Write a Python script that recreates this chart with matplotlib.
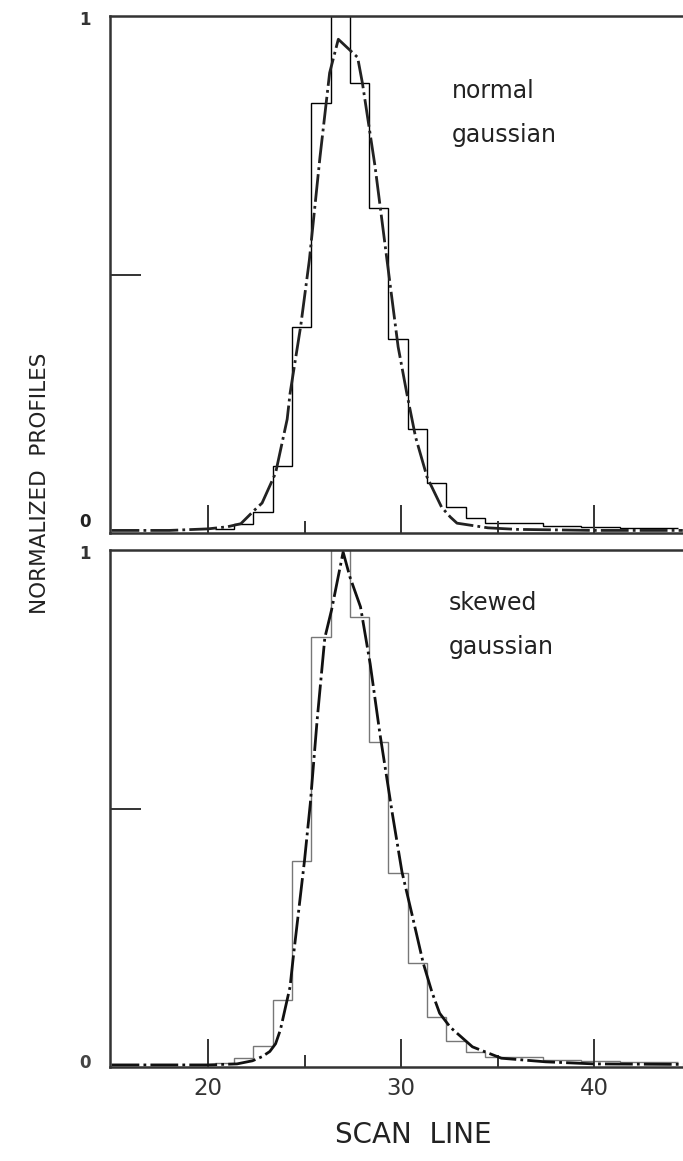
import numpy as np
import matplotlib.pyplot as plt
from matplotlib import font_manager

# measured profile (same histogram in both panels), bin edges in scan lines
bin_edges = [20.35, 21.35, 22.35, 23.35, 24.35, 25.35, 26.35, 27.35, 28.35,
             29.35, 30.35, 31.35, 32.35, 33.35, 34.35, 35.35, 36.35, 37.35,
             38.35, 39.35, 40.35, 41.35, 42.35, 43.35, 44.35]
hist_vals = [0.008, 0.018, 0.041, 0.13, 0.398, 0.832, 1.0, 0.870, 0.629,
             0.376, 0.202, 0.097, 0.050, 0.029, 0.019, 0.019, 0.019, 0.014,
             0.014, 0.012, 0.012, 0.010, 0.010, 0.010]

# normal gaussian fit
normal_x = [15.0, 18.0, 20.0, 21.0, 21.7, 22.4, 22.8, 23.5, 24.1, 24.25, 24.8,
            25.25, 25.8, 26.3, 26.75, 27.75, 28.0, 28.65, 29.3, 29.85, 30.3,
            30.75, 31.35, 32.1, 32.55, 32.9, 34.5, 36.0, 40.0, 44.6]
normal_y = [0.005, 0.005, 0.008, 0.012, 0.018, 0.044, 0.058, 0.116, 0.22, 0.27,
            0.40, 0.528, 0.727, 0.89, 0.955, 0.92, 0.87, 0.71, 0.52, 0.36, 0.27,
            0.186, 0.108, 0.05, 0.031, 0.019, 0.010, 0.007, 0.005, 0.005]

# skewed gaussian fit
skewed_x = [15.0, 20.0, 21.5, 22.3, 22.8, 23.2, 23.5, 23.75, 24.25, 24.4, 25.0,
            25.3, 25.65, 25.8, 26.05, 26.4, 27.0, 27.35, 27.9, 28.4, 28.9,
            29.55, 30.05, 30.55, 31.15, 31.6, 32.0, 32.55, 33.7, 35.2, 37.5,
            40.0, 44.6]
skewed_y = [0.004, 0.004, 0.006, 0.012, 0.02, 0.03, 0.045, 0.072, 0.155, 0.207,
            0.40, 0.51, 0.67, 0.73, 0.83, 0.884, 0.996, 0.948, 0.89, 0.78, 0.646,
            0.49, 0.377, 0.298, 0.201, 0.145, 0.104, 0.077, 0.039, 0.017, 0.010,
            0.006, 0.005]

W, H = 683, 1161
names = {f.name for f in font_manager.fontManager.ttflist}
narrow = 'Liberation Sans Narrow' if 'Liberation Sans Narrow' in names else 'DejaVu Sans'
big = 20 if narrow != 'DejaVu Sans' else 15.5
scan_size = 25 if narrow != 'DejaVu Sans' else 20

fig = plt.figure(figsize=(W / 100, H / 100), dpi=100)
left = 110 / W
ax1 = fig.add_axes([left, 1 - 533 / H, 1 - left, 517 / H])
ax2 = fig.add_axes([left, 1 - 1067 / H, 1 - left, 517 / H])

dash = (0, (10, 1.5, 1, 1.5))
ax1.stairs(hist_vals, bin_edges, baseline=None, color='black', lw=1.0)
ax1.plot(normal_x, normal_y, color='#222222', lw=2.0, ls=dash)
ax2.stairs(hist_vals, bin_edges, baseline=None, color='#777777', lw=1.0)
ax2.plot(skewed_x, skewed_y, color='#111111', lw=2.0, ls=dash)

for ax in (ax1, ax2):
    ax.set_xlim(14.92, 44.61)
    ax.set_ylim(0, 1)
    ax.spines['right'].set_visible(False)
    for s in ('left', 'top', 'bottom'):
        ax.spines[s].set_linewidth(1.8)
        ax.spines[s].set_color('#333333')
    ax.set_xticks([20, 30, 40])
    ax.set_xticks([25, 35], minor=True)
    ax.set_yticks([])
    ax.set_yticks([0.5], minor=True)
    ax.tick_params(axis='x', which='major', direction='in', length=20, width=1.4,
                   color='#333333', labelsize=16.5, pad=7, labelcolor='#333333')
    ax.tick_params(axis='x', which='minor', direction='in', length=9, width=1.4,
                   color='#333333')
    ax.tick_params(axis='y', which='minor', direction='in', length=22, width=1.4,
                   color='#333333')
    ax.text(-0.043, 0.993, '1', transform=ax.transAxes, ha='center', va='center',
            fontsize=12, fontweight='bold', color='#333333')
ax1.tick_params(labelbottom=False)
ax1.text(-0.043, 0.021, '0', transform=ax1.transAxes, ha='center', va='center',
         fontsize=12, fontweight='bold', color='#222222')
ax2.text(-0.043, 0.008, '0', transform=ax2.transAxes, ha='center', va='center',
         fontsize=12, fontweight='bold', color='#444444')

fig.text(452 / W, 1 - 98 / H, 'normal', fontsize=17, va='baseline', color='#222222')
fig.text(452 / W, 1 - 142 / H, 'gaussian', fontsize=17, va='baseline', color='#222222')
fig.text(449 / W, 1 - 610 / H, 'skewed', fontsize=17, va='baseline', color='#222222')
fig.text(449 / W, 1 - 654 / H, 'gaussian', fontsize=17, va='baseline', color='#222222')

fig.text(40 / W, 1 - 483 / H, 'NORMALIZED  PROFILES', rotation=90, ha='center',
         va='center', fontsize=big, family=narrow, color='#222222')
fig.text(413 / W, 1 - 1135 / H, 'SCAN  LINE', ha='center', va='center',
         fontsize=scan_size, family=narrow, color='#222222')

fig.savefig('out.png', dpi=100)
